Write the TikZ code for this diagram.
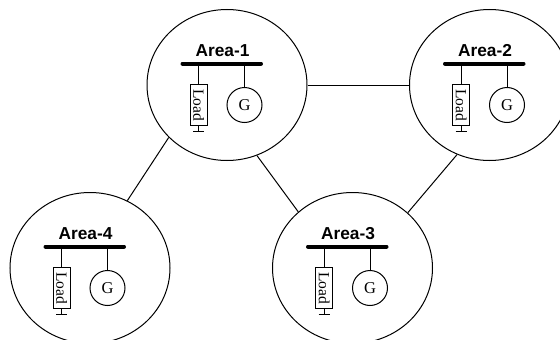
\documentclass[tikz,border=0pt]{standalone}
\usepackage{fontspec}
\setmainfont{Liberation Serif}
\setsansfont{Liberation Sans}
\usetikzlibrary{shapes.geometric}
\tikzset{
  x=1pt,y=-1pt,
  area/.style={draw,line width=1pt,ellipse,minimum width=160pt,minimum height=151pt,inner sep=0pt},
  conn/.style={line width=1pt},
  busbar/.style={line width=4pt,line cap=round},
  wire/.style={line width=1pt},
  title/.style={font=\sffamily\bfseries\fontsize{17.3}{18}\selectfont,inner sep=0pt},
  gen/.style={draw,circle,line width=1pt,minimum size=35pt,inner sep=0pt,font=\fontsize{16.5}{18}\selectfont},
  loadbox/.style={draw,line width=1pt,rotate=-90,minimum width=41pt,minimum height=17pt,inner sep=0pt,font=\fontsize{15.5}{18}\selectfont},
}
\newcommand{\areaunit}[3]{%
  \node[area] (c#1) at (#2,#3) {};
  \node[title] (t#1) at (#2-4.5,#3-34) {Area-#1};
  \coordinate (bl#1) at (#2-44.5,#3-21.5);
  \coordinate (br#1) at (#2+34,#3-21.5);
  \draw[busbar] (bl#1) -- (br#1);
  \node[loadbox] (l#1) at (#2-28.3,#3+20.3) {Load};
  \node[gen] (g#1) at (#2+17.5,#3+20) {G};
  \coordinate (tl#1) at (#2-28.3,#3-21.5);
  \coordinate (tg#1) at (#2+17.5,#3-21.5);
  \draw[wire] (tl#1) -- (l#1.west);
  \draw[wire] (tg#1) -- (g#1.north);
  \coordinate (e#1) at (#2-28.3,#3+46);
  \coordinate (ea#1) at (#2-34,#3+46);
  \coordinate (eb#1) at (#2-22.7,#3+46);
  \draw[wire] (l#1.east) -- (e#1);
  \draw[wire] (ea#1) -- (eb#1);
}
\begin{document}
\begin{tikzpicture}
\useasboundingbox (0,0) rectangle (560,340);
\clip (0,0) rectangle (560,340);
\areaunit{1}{227}{85}
\areaunit{2}{489.5}{85}
\areaunit{3}{352.5}{268}
\areaunit{4}{90}{268}
\draw[conn] (c1.east) -- (c2.west);
\draw[conn] (c1.293) -- (c3.134);
\draw[conn] (c1.222) -- (c4.61);
\draw[conn] (c2.245) -- (c3.45);
\end{tikzpicture}
\end{document}
